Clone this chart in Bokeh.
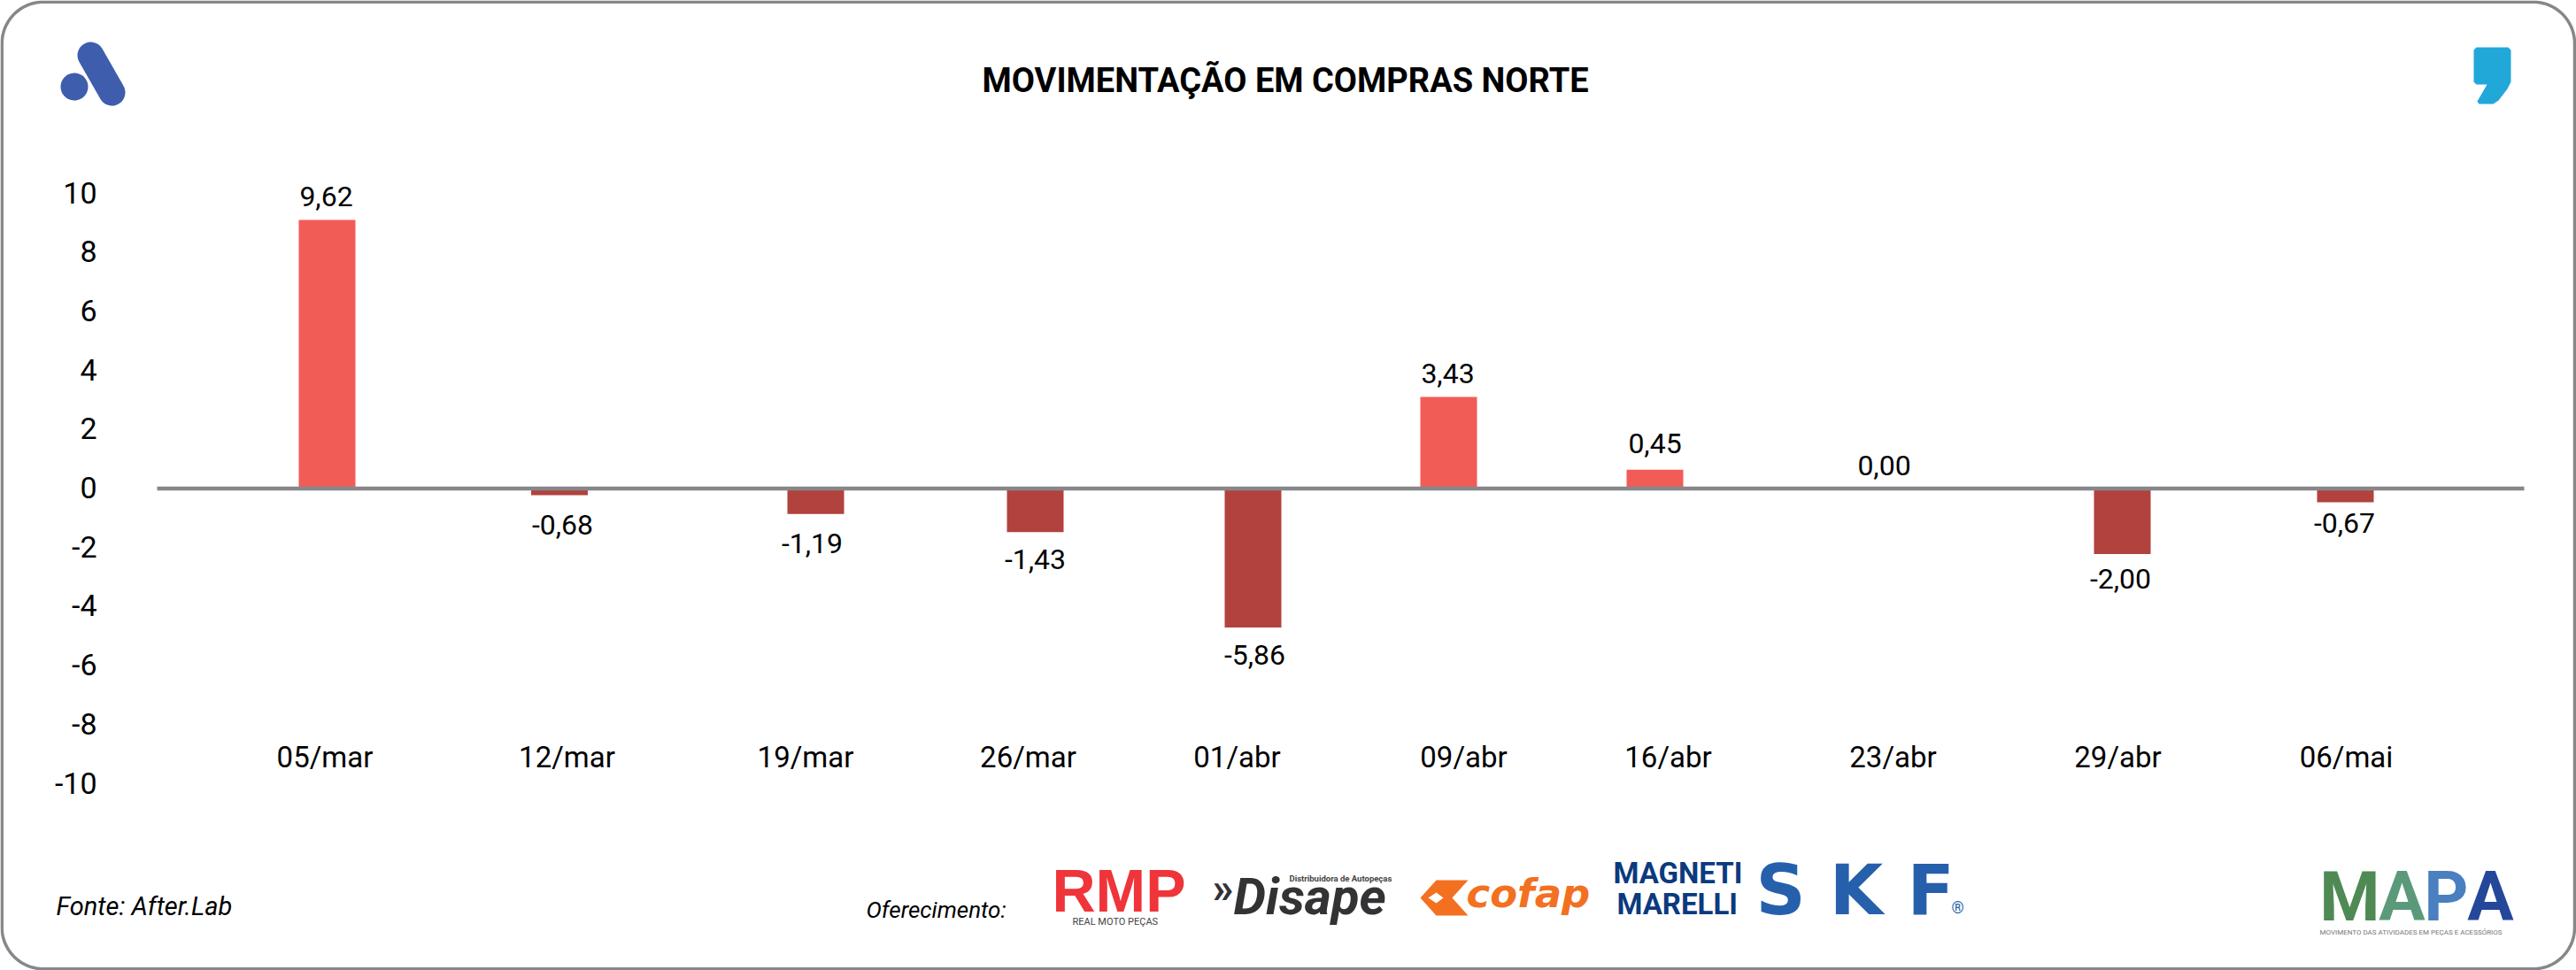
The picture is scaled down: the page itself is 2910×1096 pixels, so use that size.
import numpy as np
from bokeh.embed import file_html
from bokeh.resources import INLINE
from bokeh.plotting import figure
from bokeh.models import ColumnDataSource, Range1d, LinearAxis, FixedTicker
from bokeh.core.properties import value

# ---- chart data ----
title_text = "MOVIMENTAÇÃO EM COMPRAS NORTE"
categories = ["05/mar", "12/mar", "19/mar", "26/mar", "01/abr", "09/abr", "16/abr", "23/abr", "29/abr", "06/mai"]
value_labels = ["9,62", "-0,68", "-1,19", "-1,43", "-5,86", "3,43", "0,45", "0,00", "-2,00", "-0,67"]
bar_heights = [9.07, -0.255, -0.89, -1.51, -4.74, 3.07, 0.61, 0.0, -2.25, -0.495]
y_ticks = [-10, -8, -6, -4, -2, 0, 2, 4, 6, 8, 10]
y_tick_labels = ["-10", "-8", "-6", "-4", "-2", "0", "2", "4", "6", "8", "10"]

# ---- layout (canvas pixels) ----
W, H = 2910, 1096
LEFT, RIGHT, TOP, BOTTOM = 130, 2900, 200, 900
ZERO_PX, UNIT_PX = 550.5, 33.35
BAR_X = [369, 631.5, 921, 1169, 1415, 1636, 1869, 2128, 2397, 2649]
LABEL_X = [368, 635, 917, 1169, 1417, 1635, 1869, 2128, 2395, 2648]
LABEL_Y = [221, 592, 613, 631, 739, 421, 500, 525, 653, 590]
TICK_X = [366.5, 640, 909.5, 1161, 1397, 1653, 1884, 2138, 2392, 2650]
GREY, POS, NEG = "#87878A", "#F25C57", "#B1423D"
FONT = "Roboto"
ABS = {"position": "absolute", "left": "0px", "top": "0px"}


def Y(py):
    return (ZERO_PX - np.asarray(py, dtype=float)) / UNIT_PX


# ---- card layer: full-page frame in page pixels (card, title, marks, footer) ----
bg = figure(width=W, height=H, output_backend="svg", toolbar_location=None,
            x_range=Range1d(0, W), y_range=Range1d(H, 0),
            x_axis_type=None, y_axis_type=None,
            min_border_left=0, min_border_right=0, min_border_top=0, min_border_bottom=0)
bg.styles = dict(ABS)
bg.outline_line_color = None
bg.grid.visible = False
bg.background_fill_color = "white"
bg.border_fill_color = "white"


def label(txt, x, py, size, color="#000000", font=FONT, style="normal", align="left"):
    bg.text(x=[x], y=[py], text=[txt], text_font=value(font), text_font_size=f"{size}px",
            text_font_style=style, text_color=color, text_align=align, text_baseline="middle")


def poly(xs, ys, color):
    bg.patch(x=list(map(float, xs)), y=list(map(float, ys)), fill_color=color, line_color=None)


# card border with rounded corners
rad, x0, x1, y0, y1 = 47.0, 1.7, 2908.0, 1.7, 1094.3
arc = np.linspace(0, np.pi / 2, 24)
bx_pts = np.r_[x1 - rad + rad * np.sin(arc), x1 - rad + rad * np.cos(arc),
               x0 + rad - rad * np.sin(arc), x0 + rad - rad * np.cos(arc), x1 - rad]
by_pts = np.r_[y0 + rad - rad * np.cos(arc), y1 - rad + rad * np.sin(arc),
               y1 - rad + rad * np.cos(arc), y0 + rad - rad * np.sin(arc), y0]
bg.line(x=bx_pts.tolist(), y=by_pts.tolist(), line_color=GREY, line_width=3.5)

# title
label(title_text, 1109, 90, 38, style="bold")

# top-left "A" mark
BLUE = "#3E5EAD"
t = np.linspace(0, 2 * np.pi, 60)
poly(83.5 + 15.5 * np.cos(t), 97.5 + 15.5 * np.sin(t), BLUE)
ax, ay, bx, by, r = 102.0, 62.0, 126.0, 104.0, 15.0
ang = np.arctan2(by - ay, bx - ax)
th1 = np.linspace(ang - np.pi / 2, ang + np.pi / 2, 20)
th2 = np.linspace(ang + np.pi / 2, ang + 3 * np.pi / 2, 20)
poly(np.r_[bx + r * np.cos(th1), ax + r * np.cos(th2)], np.r_[by + r * np.sin(th1), ay + r * np.sin(th2)], BLUE)

# top-right comma mark
poly([2794, 2797, 2833, 2836, 2836, 2832, 2822, 2816, 2800, 2798, 2809, 2797, 2794],
     [56, 53, 53, 56, 92, 100, 113, 117, 117, 114, 95, 95, 92], "#22A7D9")

# footer
label("Fonte: After.Lab", 63, 1023, 29, style="italic")
label("Oferecimento:", 978, 1027, 26, style="italic")

# sponsor marks
label("RMP", 1188, 1005, 68, "#EF343A", "Liberation Sans", "bold")
label("REAL MOTO PEÇAS", 1211, 1041, 11, "#444444")
label("»", 1369, 1003, 48, "#333335", style="bold")
label("Disape", 1393, 1012, 58, "#333335", style="bold italic")
label("Distribuidora de Autopeças", 1456, 992, 9.5, "#444444", style="bold")
poly([1604, 1622, 1658, 1640, 1658, 1622], [1014, 994, 994, 1014, 1034, 1034], "#F37021")
poly([1613, 1622, 1630, 1622], [1014, 1008, 1014, 1020], "#FFFFFF")
label("cofap", 1656, 1009, 45, "#F37021", "DejaVu Sans", "bold italic")
label("MAGNETI", 1822, 986, 33, "#0B3A7E", FONT, "bold")
label("MARELLI", 1826, 1021, 33, "#0B3A7E", FONT, "bold")
label("S K F", 1983, 1005, 78, "#2660AC", "DejaVu Sans", "bold")
label("®", 2211, 1025, 18, "#2660AC", align="center")

# MAPA mark
for letter, cx, col in zip("MAPA", [2654, 2713, 2763, 2813], ["#4F8A54", "#5A9A7A", "#4A7FC0", "#24479A"]):
    label(letter, cx, 1013, 78, col, FONT, "bold", align="center")
label("MOVIMENTO DAS ATIVIDADES EM PEÇAS E ACESSÓRIOS", 2620, 1053, 8, "#777777")

# ---- chart layer: transparent, on top ----
p = figure(width=W, height=H, output_backend="svg", toolbar_location=None,
           x_range=Range1d(LEFT, RIGHT), y_range=Range1d(float(Y(BOTTOM)), float(Y(TOP))),
           x_axis_type=None, y_axis_type=None,
           min_border_left=LEFT, min_border_right=W - RIGHT,
           min_border_top=TOP, min_border_bottom=H - BOTTOM)
p.styles = dict(ABS)
p.outline_line_color = None
p.grid.visible = False
p.background_fill_color = None
p.border_fill_color = None

yaxis = LinearAxis(ticker=FixedTicker(ticks=y_ticks),
                   major_label_overrides=dict(zip(y_ticks, y_tick_labels)),
                   major_label_text_font=FONT, major_label_text_font_size="34px",
                   major_label_text_color="#000000", major_label_standoff=15,
                   axis_line_color=None, major_tick_line_color=None, minor_tick_line_color=None)
p.add_layout(yaxis, "left")
xaxis = LinearAxis(ticker=FixedTicker(ticks=TICK_X),
                   major_label_overrides=dict(zip(TICK_X, categories)),
                   major_label_text_font=FONT, major_label_text_font_size="33px",
                   major_label_text_color="#000000", major_label_standoff=-71,
                   axis_line_color=None, major_tick_line_color=None, minor_tick_line_color=None)
p.add_layout(xaxis, "below")

bars = ColumnDataSource(dict(x=BAR_X, top=bar_heights, bottom=[0] * len(bar_heights),
                             color=[POS if v > 0 else NEG for v in bar_heights]))
p.vbar(x="x", top="top", bottom="bottom", width=64, fill_color="color", line_color=None, source=bars)
p.line(x=[177, 2851], y=[float(Y(551.5))] * 2, line_color=GREY, line_width=4.4)
p.text(x=LABEL_X, y=Y(LABEL_Y).tolist(), text=value_labels, text_font=value(FONT),
       text_font_size="32px", text_color="#000000", text_align="center", text_baseline="middle")

open("out.html", "w").write(file_html([bg, p], INLINE))
